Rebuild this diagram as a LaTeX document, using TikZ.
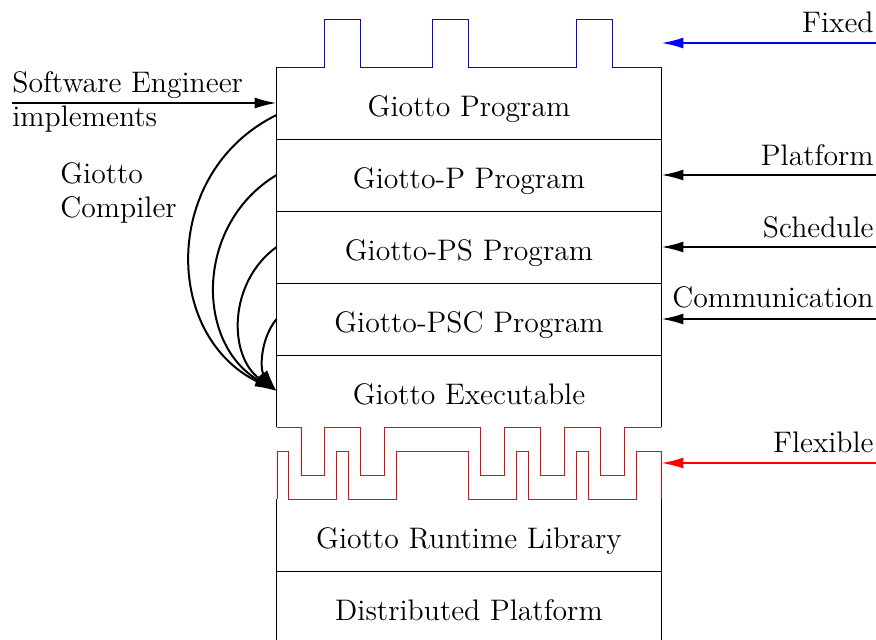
\documentclass[tikz,border=0pt]{standalone}
\usepackage{fontspec}
\usetikzlibrary{arrows.meta,calc}
\begin{document}
\begin{tikzpicture}[x=0.5pt,y=-0.5pt,
  every node/.style={font=\fontsize{14.85}{17.8}\selectfont, inner sep=0pt},
  row/.style={minimum width=192pt, minimum height=36pt, text height=13pt, text depth=0pt},
  box/.style={line width=0.5pt},
  arr/.style={line width=1pt, -{Latex[length=11pt,width=5.5pt]}},
  lbl/.style={anchor=base east},
  lblw/.style={anchor=base west},
]
\useasboundingbox (0,0) rectangle (876,639);

% rows
\node[row] (prog)    at (469,103) {Giotto Program};
\node[row] (progP)   at (469,175) {Giotto-P Program};
\node[row] (progPS)  at (469,247) {Giotto-PS Program};
\node[row] (progPSC) at (469,319) {Giotto-PSC Program};
\node[row] (exe)     at (469,391) {Giotto Executable};
\node[row] (rtl)     at (469,535) {Giotto Runtime Library};
\node[row] (dist)    at (469,607) {Distributed Platform};
\node[minimum width=192pt, minimum height=24pt] (fixed) at (469,43) {};
\node[minimum width=192pt, minimum height=36pt] (flex)  at (469,463) {};

% box lines
\draw[box] (prog.north west) -- (exe.south west);
\draw[box] (prog.north east) -- (exe.south east);
\draw[box] (prog.south west) -- (prog.south east);
\draw[box] (progP.south west) -- (progP.south east);
\draw[box] (progPS.south west) -- (progPS.south east);
\draw[box] (progPSC.south west) -- (progPSC.south east);
\draw[box] (rtl.north west) -- (dist.south west);
\draw[box] (rtl.north east) -- (dist.south east);
\draw[box] (rtl.south west) -- (rtl.south east);

% fixed interface (blue)
\draw[box, blue] (277,67) -- (324,67) -- (324,19) -- (360,19) -- (360,67)
  -- (432,67) -- (432,19) -- (468,19) -- (468,67)
  -- (576,67) -- (576,19) -- (612,19) -- (612,67) -- (661,67);

% flexible interface (red)
\draw[box, red] (277,427) -- (301,427) -- (301,475) -- (324,475) -- (324,427)
  -- (360,427) -- (360,475) -- (384,475) -- (384,427)
  -- (480,427) -- (480,475) -- (504,475) -- (504,427)
  -- (540,427) -- (540,475) -- (564,475) -- (564,427)
  -- (600,427) -- (600,475) -- (624,475) -- (624,427) -- (661,427);
\draw[box, red] (277,499) -- (277,451) -- (288,451) -- (288,499) -- (336,499)
  -- (336,451) -- (348,451) -- (348,499) -- (396,499)
  -- (396,451) -- (468,451) -- (468,499) -- (516,499)
  -- (516,451) -- (528,451) -- (528,499) -- (576,499)
  -- (576,451) -- (588,451) -- (588,499) -- (636,499)
  -- (636,451) -- (661,451) -- (661,499);

% right arrows
\coordinate (sFixed) at (876,43);
\coordinate (sPlat)  at (876,175);
\coordinate (sSched) at (876,247);
\coordinate (sComm)  at (876,319);
\coordinate (sFlex)  at (876,463);
\draw[arr, blue] (sFixed) -- (fixed.east);
\draw[arr] (sPlat) -- (progP.east);
\draw[arr] (sSched) -- (progPS.east);
\draw[arr] (sComm) -- (progPSC.east);
\draw[arr, red] (sFlex) -- (flex.east);
\node[lbl] (tFixed) at (874,32) {Fixed};
\node[lbl] (tPlat)  at (874,165) {Platform};
\node[lbl] (tSched) at (874,237) {Schedule};
\node[lbl] (tComm)  at (874,307) {Communication};
\node[lbl] (tFlex)  at (874,452) {Flexible};

% software engineer
\coordinate (sSE) at (12,103);
\draw[arr] (sSE) -- (prog.west);
\node[lblw] (tSE1) at (12,92) {Software Engineer};
\node[lblw] (tSE2) at (12,126) {implements};

% compiler
\node[anchor=base west, align=left, font=\fontsize{14.85}{16.7}\selectfont] (comp) at (60,217) {Giotto\\Compiler};
\draw[arr] ([yshift=-6pt]prog.west) .. controls (162,171) and (162,335) .. (exe.west);
\draw[arr] (progP.west) .. controls (195,224) and (195,343) .. (exe.west);
\draw[arr] (progPS.west) .. controls (228,282) and (228,356) .. (exe.west);
\draw[arr] (progPSC.west) .. controls (260,339) and (260,370) .. (exe.west);
\end{tikzpicture}
\end{document}
